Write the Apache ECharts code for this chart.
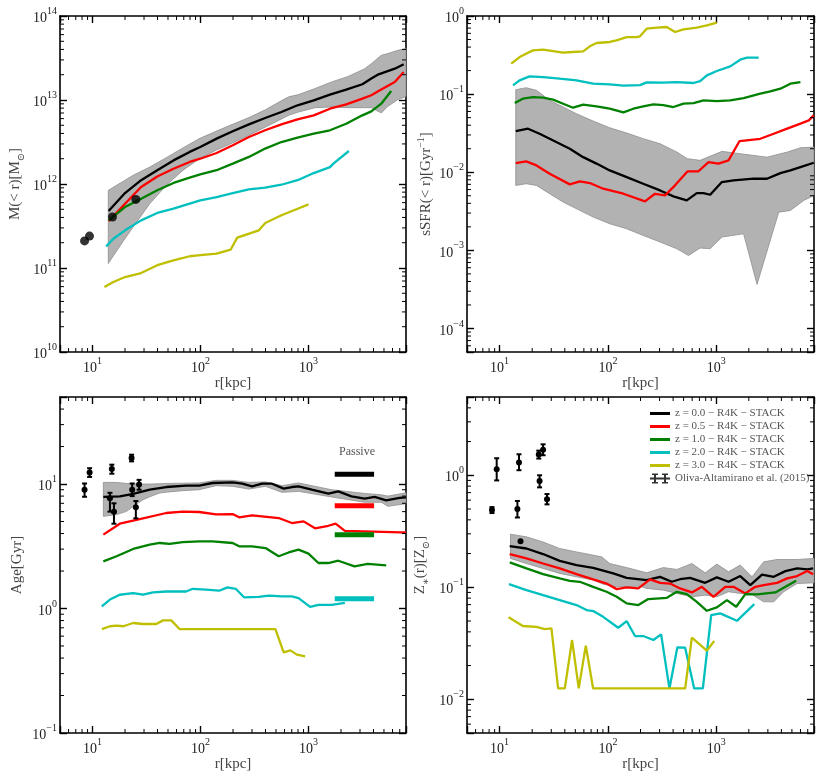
<!DOCTYPE html>
<html><head><meta charset="utf-8">
<script src="https://cdn.jsdelivr.net/npm/echarts@6/dist/echarts.min.js"></script>
<style>html,body{margin:0;padding:0;background:#fff}#c{width:822px;height:779px}</style>
</head><body><div id="c"></div>
<script>
// ---------- axis ranges ----------
const X_MIN = 5, X_MAX = 8000;
const Y_RANGES = [[1e10, 1e14], [5e-5, 1], [0.1, 50], [0.005, 5]];
const LEGEND_NAMES = ['z = 0.0 − R4K − STACK', 'z = 0.5 − R4K − STACK', 'z = 1.0 − R4K − STACK', 'z = 2.0 − R4K − STACK', 'z = 3.0 − R4K − STACK'];
const OBS_NAME = 'Oliva-Altamirano et al. (2015)';
const COLORS = ['#000000', '#ff0000', '#008000', '#00bfbf', '#bfbf00'];

// ---------- Panel 1: M(<r) ----------
const M_r0 = [14.1, 20, 28.2, 39.8, 56.2, 79.4, 99.5, 141, 199, 281, 397, 561, 792, 1119, 1581, 2234, 3155, 3820, 4457, 6295, 7620];
const M_v0 = [4.78e11, 7.8e11, 1.11e12, 1.46e12, 1.91e12, 2.41e12, 2.76e12, 3.47e12, 4.24e12, 5.13e12, 6.1e12, 7.2e12, 8.65e12, 9.9e12, 1.16e13, 1.33e13, 1.54e13, 1.80e13, 2.02e13, 2.36e13, 2.66e13];
const M_r1 = M_r0;
const M_v1 = [3.6e11, 5.83e11, 9.2e11, 1.23e12, 1.52e12, 1.83e12, 2.0e12, 2.34e12, 2.89e12, 3.63e12, 4.36e12, 5.13e12, 5.89e12, 6.57e12, 7.88e12, 8.88e12, 1.04e13, 1.14e13, 1.28e13, 1.64e13, 2.15e13];
const M_r2 = [14.1, 20, 28.2, 39.8, 56.2, 79.4, 99.5, 141, 199, 281, 397, 561, 792, 1119, 1581, 2234, 3155, 3820, 4720, 5835];
const M_v2 = [3.69e11, 5.32e11, 6.69e11, 8.41e11, 1.03e12, 1.19e12, 1.30e12, 1.46e12, 1.75e12, 2.10e12, 2.64e12, 3.16e12, 3.56e12, 3.98e12, 4.36e12, 5.22e12, 6.57e12, 7.33e12, 9.04e12, 1.28e13];
const M_r3 = [13.4, 15.6, 20, 28.2, 39.8, 56.2, 79.4, 99.5, 141, 199, 281, 397, 561, 792, 1119, 1581, 1700, 2366];
const M_v3 = [1.81e11, 2.23e11, 2.81e11, 3.69e11, 4.52e11, 5.08e11, 5.83e11, 6.39e11, 7.0e11, 7.8e11, 8.65e11, 9.05e11, 9.8e11, 1.11e12, 1.35e12, 1.59e12, 1.75e12, 2.47e12];
const M_r4 = [12.9, 15.6, 20, 28.2, 39.8, 56.2, 79.4, 99.5, 141, 190, 219, 282, 347, 398, 562, 794, 1000];
const M_v4 = [5.94e10, 6.81e10, 7.81e10, 8.71e10, 1.08e11, 1.23e11, 1.38e11, 1.42e11, 1.48e11, 1.65e11, 2.30e11, 2.56e11, 2.81e11, 3.43e11, 4.24e11, 5.08e11, 5.73e11];
const M_bandR = [14.0, 19.3, 23.8, 33.9, 48.2, 68.5, 97.5, 139, 198, 281, 400, 569, 655, 809, 1151, 1637, 2333, 3319, 3820, 4720, 5435, 6716, 8000];
const M_bandHi = [8.4e11, 1.08e12, 1.27e12, 1.59e12, 2.06e12, 2.68e12, 3.47e12, 4.24e12, 5.13e12, 6.17e12, 7.67e12, 9.9e12, 1.09e13, 1.16e13, 1.37e13, 1.64e13, 1.91e13, 2.36e13, 2.71e13, 3.40e13, 3.57e13, 3.90e13, 4.1e13];
const M_bandLo = [1.13e11, 2.10e11, 3.08e11, 5.83e11, 9.64e11, 1.45e12, 2.0e12, 2.52e12, 3.08e12, 3.80e12, 4.77e12, 6.0e12, 6.57e12, 7.2e12, 8.1e12, 8.26e12, 8.1e12, 8.1e12, 8.1e12, 7.0e12, 8.4e12, 1.01e13, 1.1e13];
const M_obsR = [8.44, 9.38, 15.3, 25.2];
const M_obsV = [2.1e11, 2.4e11, 4.05e11, 6.56e11];

// ---------- Panel 2: sSFR(<r) ----------
const S_r0 = [14.1, 18.3, 23.4, 29.0, 44.5, 59.1, 78.5, 104, 149, 212, 303, 403, 535, 662, 764, 880, 1128, 1446, 2216, 2944, 3915, 4843, 5995, 7962];
const S_v0 = [0.0337, 0.0361, 0.0311, 0.0269, 0.0200, 0.0156, 0.0129, 0.01055, 0.00867, 0.00713, 0.00585, 0.00491, 0.00436, 0.00541, 0.00541, 0.00515, 0.00748, 0.00786, 0.00826, 0.00826, 0.00976, 0.01055, 0.01164, 0.01324];
const S_r1 = [14.1, 17.6, 21.9, 29.0, 44.5, 55.1, 68.1, 90.5, 139, 220, 272, 337, 417, 542, 686, 849, 1050, 1300, 1644, 2553, 3396, 4518, 6000, 7160, 7962];
const S_v1 = [0.0131, 0.01376, 0.01223, 0.00957, 0.00699, 0.00764, 0.00727, 0.00615, 0.00531, 0.00423, 0.0053, 0.00505, 0.0068, 0.01025, 0.0103, 0.0135, 0.0129, 0.0142, 0.0251, 0.0268, 0.0311, 0.0361, 0.0419, 0.0461, 0.0535];
const S_r2 = [13.8, 16.4, 20.3, 25.2, 31.2, 38.6, 47.7, 59.1, 78.5, 104, 139, 172, 212, 263, 325, 403, 499, 617, 764, 1014, 1349, 1791, 2553, 3162, 3915, 4843, 5995];
const S_v2 = [0.0769, 0.0873, 0.0918, 0.090, 0.0849, 0.0754, 0.067, 0.0732, 0.0697, 0.065, 0.0584, 0.065, 0.0697, 0.0739, 0.0725, 0.0684, 0.0754, 0.0769, 0.0832, 0.0815, 0.0832, 0.0891, 0.1012, 0.1084, 0.1173, 0.136, 0.1428];
const S_r3 = [13.3, 15.3, 18.9, 25.2, 35.9, 51.3, 73.1, 104, 139, 198, 228, 325, 432, 617, 711, 820, 1014, 1349, 1667, 1923, 2466];
const S_v3 = [0.1294, 0.150, 0.169, 0.1655, 0.1575, 0.150, 0.136, 0.1333, 0.1282, 0.1306, 0.1413, 0.140, 0.1428, 0.1387, 0.147, 0.174, 0.1977, 0.2266, 0.276, 0.2924, 0.2924];
const S_r4 = [12.8, 15.3, 20.3, 25.2, 31.2, 38.6, 47.7, 59.1, 68.1, 78.5, 104, 120, 149, 184, 198, 228, 282, 349, 417, 499, 662, 820, 1014];
const S_v4 = [0.245, 0.298, 0.363, 0.371, 0.356, 0.339, 0.346, 0.353, 0.409, 0.451, 0.465, 0.488, 0.538, 0.538, 0.549, 0.689, 0.709, 0.723, 0.624, 0.675, 0.709, 0.759, 0.822];
const S_bandHiR = [14.1, 17.6, 21.9, 29.0, 38.6, 51.3, 73.1, 104, 149, 212, 303, 432, 542, 711, 1130, 2944, 4518, 6000, 8000];
const S_bandHi = [0.114, 0.1208, 0.1117, 0.0832, 0.0684, 0.0561, 0.0452, 0.0371, 0.0318, 0.0269, 0.0232, 0.0182, 0.0149, 0.0142, 0.0185, 0.0156, 0.0181, 0.0206, 0.021];
const S_bandLoR = [14.1, 17.6, 21.9, 29.0, 38.6, 51.3, 73.1, 104, 149, 212, 303, 432, 555, 711, 880, 1130, 1791, 2383, 3776, 4843, 6440, 8000];
const S_bandLo = [0.00678, 0.00713, 0.00678, 0.00531, 0.00415, 0.00341, 0.00267, 0.00219, 0.00189, 0.00155, 0.00128, 0.00105, 0.00086, 0.00107, 0.00105, 0.00148, 0.00163, 0.000366, 0.00308, 0.00324, 0.00436, 0.00505];

// ---------- Panel 3: Age ----------
const A_r0 = [12.6, 17.9, 23.8, 33.9, 48.2, 73.6, 97.5, 129, 198, 244, 301, 372, 460, 589, 702, 809, 1073, 1528, 1888, 2500, 3319, 4100, 5250, 6970, 8000];
const A_v0 = [7.87, 7.96, 8.32, 9.0, 9.46, 9.70, 9.70, 10.19, 10.31, 10.06, 9.58, 10.06, 10.06, 9.18, 9.46, 9.58, 9.0, 8.36, 8.73, 7.96, 7.63, 7.87, 7.39, 7.73, 7.8];
const A_r1 = [12.6, 17.9, 27.4, 48.2, 68.5, 97.5, 139, 198, 228, 301, 530, 702, 900, 1151, 1528, 1783, 2173, 7200, 8000];
const A_v1 = [3.92, 4.80, 5.23, 5.85, 5.99, 5.96, 5.70, 5.74, 5.40, 5.60, 5.33, 4.86, 5.01, 4.41, 4.62, 4.80, 4.21, 4.09, 4.09];
const A_r2 = [12.6, 16.7, 23.8, 33.9, 41.9, 51.8, 68.5, 97.5, 129, 198, 228, 301, 400, 530, 655, 809, 1000, 1236, 1528, 1888, 2670, 3540, 5250];
const A_v2 = [2.39, 2.63, 3.01, 3.26, 3.36, 3.30, 3.42, 3.46, 3.46, 3.36, 3.16, 3.16, 3.06, 2.63, 2.82, 2.97, 2.76, 2.32, 2.32, 2.42, 2.18, 2.28, 2.22];
const A_r3 = [12.2, 14.5, 17.9, 23.8, 29.4, 36.3, 48.2, 73.6, 84.7, 112, 149, 178, 212, 253, 347, 429, 569, 702, 809, 1036, 1236, 1637, 2173];
const A_v3 = [1.04, 1.18, 1.29, 1.33, 1.29, 1.35, 1.37, 1.37, 1.44, 1.42, 1.39, 1.48, 1.44, 1.23, 1.24, 1.27, 1.25, 1.25, 1.21, 1.03, 1.07, 1.07, 1.11];
const A_r4 = [12.2, 14.5, 16.7, 19.3, 23.8, 29.4, 39.0, 44.9, 53.6, 63.9, 494, 589, 679, 781, 931];
const A_v4 = [0.684, 0.720, 0.728, 0.720, 0.765, 0.751, 0.751, 0.803, 0.803, 0.684, 0.684, 0.445, 0.461, 0.426, 0.413];
const A_bandR = [12.6, 16.7, 20.7, 23.8, 29.4, 33.9, 41.9, 48.2, 68.5, 97.5, 139, 198, 281, 400, 569, 809, 1637, 3319, 4720, 5435, 8000];
const A_bandHi = [10.3, 10.3, 10.1, 10.0, 10.0, 10.0, 10.05, 10.1, 10.15, 10.2, 10.7, 10.7, 10.3, 10.4, 9.7, 10.2, 9.0, 8.4, 8.2, 8.0, 8.5];
const A_bandLo = [5.50, 5.68, 6.03, 6.62, 7.49, 7.9, 8.47, 8.6, 8.84, 9.0, 9.70, 9.58, 9.1, 9.58, 8.57, 8.73, 7.87, 7.13, 7.13, 6.62, 6.95];
const A_obsR = [8.44, 9.4, 15.1, 14.5, 15.8, 23.0, 23.3, 25.2, 27.0];
const A_obsV = [9.0, 12.4, 13.2, 7.7, 6.0, 16.2, 9.0, 6.5, 9.9];
const A_obsLo = [7.9, 11.4, 12.1, 6.0, 4.8, 15.2, 8.0, 5.3, 9.0];
const A_obsHi = [10.1, 13.4, 14.3, 8.5, 7.0, 17.2, 10.1, 7.3, 10.8];
const PASSIVE_R = [1750, 4050];
const PASSIVE_AGE = [12.0, 6.7, 3.92, 1.2];

// ---------- Panel 4: Z*(r) ----------
const Z_r0 = [12.4, 17.7, 25.2, 35.9, 51.3, 73.1, 112, 149, 228, 303, 389, 464, 574, 791, 1014, 1300, 1667, 2064, 2650, 3396, 4355, 5585, 6918, 7860];
const Z_v0 = [0.233, 0.222, 0.198, 0.172, 0.158, 0.149, 0.133, 0.1215, 0.1159, 0.124, 0.112, 0.118, 0.1215, 0.1096, 0.1225, 0.112, 0.126, 0.1045, 0.130, 0.124, 0.1394, 0.1473, 0.1443, 0.1473];
const Z_r1 = [12.4, 17.7, 25.2, 35.9, 51.3, 73.1, 97.2, 120.5, 149, 191, 245, 303, 375, 464, 596, 737, 944, 1211, 1446, 1857, 2297, 2743, 3648, 4518, 5585, 6918, 7860];
const Z_v1 = [0.198, 0.181, 0.163, 0.1473, 0.131, 0.1175, 0.108, 0.0963, 0.0997, 0.0977, 0.1175, 0.1096, 0.108, 0.0977, 0.090, 0.101, 0.0822, 0.101, 0.101, 0.0882, 0.101, 0.1045, 0.1096, 0.120, 0.126, 0.140, 0.131];
const Z_r2 = [12.4, 17.7, 25.2, 35.9, 44.5, 55.0, 73.1, 97.2, 120.5, 149, 191, 236, 350, 433, 535, 662, 820, 1014, 1256, 1531, 1857, 2384, 3515, 4355, 5470];
const Z_v2 = [0.1666, 0.1473, 0.131, 0.120, 0.1142, 0.112, 0.101, 0.0912, 0.0822, 0.0718, 0.0694, 0.0785, 0.0805, 0.0912, 0.0869, 0.0742, 0.0617, 0.0661, 0.0769, 0.067, 0.0869, 0.0864, 0.090, 0.101, 0.1142];
const Z_r3 = [12.2, 17.7, 25.2, 35.9, 51.3, 63.5, 73.1, 90.4, 124.5, 149, 178, 212, 263, 310, 370, 438, 517, 626, 753, 899, 1090, 1555, 2248];
const Z_v3 = [0.1067, 0.0943, 0.0851, 0.0769, 0.0694, 0.0626, 0.0613, 0.0545, 0.0435, 0.0499, 0.0367, 0.0367, 0.0338, 0.038, 0.0125, 0.0291, 0.0289, 0.0125, 0.0125, 0.0565, 0.0585, 0.0502, 0.0708];
const Z_r4 = [12.1, 16.4, 21.9, 26.1, 30.1, 34.7, 40.0, 46.7, 53.8, 62.5, 73.1, 517, 596, 820, 958];
const Z_v4 = [0.0539, 0.0451, 0.0444, 0.0424, 0.043, 0.0125, 0.0125, 0.0338, 0.0125, 0.0301, 0.0125, 0.0125, 0.0355, 0.0272, 0.0331];
const Z_bandHiR = [12.6, 17.7, 25.2, 35.9, 51.3, 87.5, 104, 149, 228, 325, 433, 596, 791, 1014, 1300, 1667, 2143, 2743, 3648, 5585, 8000];
const Z_bandHi = [0.298, 0.282, 0.254, 0.222, 0.207, 0.187, 0.163, 0.150, 0.1346, 0.150, 0.1443, 0.163, 0.1346, 0.161, 0.1374, 0.158, 0.124, 0.1687, 0.177, 0.177, 0.181];
const Z_bandLoR = [12.6, 17.7, 25.2, 35.9, 51.3, 73.1, 90.4, 120.5, 198, 228, 325, 433, 596, 791, 1014, 1300, 1667, 2064, 2743, 3396, 4198, 5585, 8000];
const Z_bandLo = [0.181, 0.163, 0.1473, 0.133, 0.124, 0.1159, 0.1067, 0.101, 0.1024, 0.0977, 0.0943, 0.0882, 0.0822, 0.0851, 0.0822, 0.0912, 0.0882, 0.0882, 0.0742, 0.0742, 0.0912, 0.108, 0.1096];
const Z_obsR = [8.5, 9.4, 14.6, 15.1, 23.0, 25.2, 23.4, 27.4, 15.6];
const Z_obsV = [0.49, 1.13, 0.50, 1.30, 1.53, 1.69, 0.89, 0.61, 0.258];
const Z_obsLo = [0.46, 0.90, 0.42, 1.11, 1.41, 1.51, 0.78, 0.55, 0.258];
const Z_obsHi = [0.52, 1.42, 0.59, 1.54, 1.66, 1.89, 1.00, 0.68, 0.258];

// ---------- styling helpers ----------
const SERIF = '"Liberation Serif", "DejaVu Serif", serif';
const GRIDS = [
  {left: 60, top: 16, width: 346, height: 336},
  {left: 467, top: 16, width: 347, height: 336},
  {left: 60, top: 397, width: 346, height: 336},
  {left: 467, top: 397, width: 347, height: 336}
];
const richLab = {
  b: {fontFamily: SERIF, fontSize: 14, color: '#222', verticalAlign: 'bottom', lineHeight: 19},
  s: {fontFamily: SERIF, fontSize: 10, color: '#222', verticalAlign: 'top', lineHeight: 19}
};
function expFmt(v) {
  const e = Math.log10(v);
  const r = Math.round(e);
  if (Math.abs(e - r) > 1e-6) return '';
  return '{b|10}{s|' + (r < 0 ? '\u2212' + (-r) : r) + '}';
}
const NLH = 18;
const nameRich = {
  n: {fontFamily: SERIF, fontSize: 15, color: '#444', verticalAlign: 'middle', lineHeight: NLH},
  nt: {fontFamily: SERIF, fontSize: 15, color: '#444', verticalAlign: 'bottom', lineHeight: NLH},
  nb: {fontFamily: SERIF, fontSize: 15, color: '#444', verticalAlign: 'top', lineHeight: NLH},
  sub: {fontFamily: SERIF, fontSize: 10, color: '#444', verticalAlign: 'bottom', lineHeight: NLH},
  sup: {fontFamily: SERIF, fontSize: 10, color: '#444', verticalAlign: 'top', lineHeight: NLH}
};
const Y_NAMES = [
  '{nb|M(< r)[M}{sub|\u2299}{nb|]}',
  '{nt|sSFR(< r)[Gyr}{sup|\u22121}{nt|]}',
  '{n|Age[Gyr]}',
  '{nb|Z}{sub|\u2217}{nb|(r)[Z}{sub|\u2299}{nb|]}'
];
const Y_GAPS = [34, 33, 34, 36];

const xAxes = [], yAxes = [];
GRIDS.forEach((g, gi) => {
  [false, true].forEach(mirror => {
    xAxes.push({
      type: 'log', logBase: 10, gridIndex: gi, min: X_MIN, max: X_MAX,
      position: mirror ? 'top' : 'bottom',
      axisLine: {show: true, onZero: false, lineStyle: {color: '#000', width: 1.6}},
      axisTick: {show: true, inside: true, length: 7, lineStyle: {color: '#000', width: 1.4}},
      axisLabel: mirror ? {show: false} : {show: true, margin: 4, formatter: expFmt, rich: richLab, hideOverlap: false},
      splitLine: {show: false},
      name: mirror ? '' : 'r[kpc]', nameLocation: 'middle', nameGap: 20,
      nameTextStyle: {fontFamily: SERIF, fontSize: 15, color: '#444'}
    });
    yAxes.push({
      type: 'log', logBase: 10, gridIndex: gi, min: Y_RANGES[gi][0], max: Y_RANGES[gi][1],
      position: mirror ? 'right' : 'left',
      axisLine: {show: true, onZero: false, lineStyle: {color: '#000', width: 1.6}},
      axisTick: {show: true, inside: true, length: 7, lineStyle: {color: '#000', width: 1.4}},
      axisLabel: mirror ? {show: false} : {show: true, margin: 3, formatter: expFmt, rich: richLab, hideOverlap: false},
      splitLine: {show: false},
      name: mirror ? '' : Y_NAMES[gi], nameLocation: 'middle', nameGap: Y_GAPS[gi], nameRotate: 90,
      nameTextStyle: {fontFamily: SERIF, fontSize: 15, color: '#444', rich: nameRich}
    });
  });
});

const series = [];
function ax(gi) { return {xAxisIndex: 2 * gi, yAxisIndex: 2 * gi}; }
function lineS(gi, name, xs, ys, color, width, z) {
  return Object.assign({
    type: 'line', name: name, data: xs.map((x, i) => [x, ys[i]]),
    showSymbol: false, symbol: 'none', animation: false, silent: true,
    lineStyle: {color: color, width: width || 2.3}, itemStyle: {color: color}, z: z || 3
  }, ax(gi));
}
function bandS(gi, hx, hy, lx, ly) {
  return Object.assign({
    type: 'custom', name: 'band' + gi, silent: true, animation: false, z: 1,
    data: [[hx[0], hy[0]]],
    renderItem: function (params, api) {
      const pts = [];
      hx.forEach((x, i) => pts.push(api.coord([x, hy[i]])));
      for (let i = lx.length - 1; i >= 0; i--) pts.push(api.coord([lx[i], ly[i]]));
      return {type: 'polygon', shape: {points: pts}, style: {fill: '#b2b2b2', stroke: '#8f8f8f', lineWidth: 0.8}};
    }
  }, ax(gi));
}
function errS(gi, xs, ys, lo, hi) {
  return Object.assign({
    type: 'custom', name: OBS_NAME, silent: true, animation: false, z: 6,
    itemStyle: {color: '#000'},
    data: xs.map((x, i) => [x, ys[i], lo[i], hi[i]]),
    encode: {x: 0, y: 1},
    renderItem: function (params, api) {
      const c = api.coord([api.value(0), api.value(1)]);
      const a = api.coord([api.value(0), api.value(2)]);
      const b = api.coord([api.value(0), api.value(3)]);
      const ch = [];
      if (Math.abs(a[1] - b[1]) > 0.5) {
        const st = {stroke: '#000', lineWidth: 2};
        ch.push({type: 'line', shape: {x1: c[0], y1: a[1], x2: c[0], y2: b[1]}, style: st});
        ch.push({type: 'line', shape: {x1: c[0] - 2.5, y1: a[1], x2: c[0] + 2.5, y2: a[1]}, style: st});
        ch.push({type: 'line', shape: {x1: c[0] - 2.5, y1: b[1], x2: c[0] + 2.5, y2: b[1]}, style: st});
      }
      ch.push({type: 'circle', shape: {cx: c[0], cy: c[1], r: 3}, style: {fill: '#000'}});
      return {type: 'group', children: ch};
    }
  }, ax(gi));
}
function minorS(gi) {
  const [y0, y1] = Y_RANGES[gi];
  const data = [];
  for (let e = -6; e <= 15; e++) {
    for (let k = 2; k <= 9; k++) {
      const v = k * Math.pow(10, e);
      if (v > X_MIN * 1.0001 && v < X_MAX * 0.9999) data.push([v, y0, 0]);
      if (v > y0 * 1.0001 && v < y1 * 0.9999) data.push([X_MIN, v, 1]);
    }
  }
  return Object.assign({
    type: 'custom', name: 'minor' + gi, silent: true, animation: false, z: 7,
    data: data, encode: {x: 0, y: 1},
    renderItem: function (params, api) {
      const cs = params.coordSys;
      const p = api.coord([api.value(0), api.value(1)]);
      const L = 4, st = {stroke: '#000', lineWidth: 1};
      if (api.value(2) === 0) {
        return {type: 'group', children: [
          {type: 'line', shape: {x1: p[0], y1: cs.y + cs.height, x2: p[0], y2: cs.y + cs.height - L}, style: st},
          {type: 'line', shape: {x1: p[0], y1: cs.y, x2: p[0], y2: cs.y + L}, style: st}
        ]};
      }
      return {type: 'group', children: [
        {type: 'line', shape: {x1: cs.x, y1: p[1], x2: cs.x + L, y2: p[1]}, style: st},
        {type: 'line', shape: {x1: cs.x + cs.width, y1: p[1], x2: cs.x + cs.width - L, y2: p[1]}, style: st}
      ]};
    }
  }, ax(gi));
}

// panel 1
series.push(bandS(0, M_bandR, M_bandHi, M_bandR, M_bandLo));
[[M_r0, M_v0], [M_r1, M_v1], [M_r2, M_v2], [M_r3, M_v3], [M_r4, M_v4]].forEach((d, i) => series.push(lineS(0, LEGEND_NAMES[i], d[0], d[1], COLORS[i])));
series.push(Object.assign({type: 'scatter', name: OBS_NAME, data: M_obsR.map((x, i) => [x, M_obsV[i]]), symbol: 'circle', symbolSize: 9, itemStyle: {color: '#000'}, silent: true, animation: false, z: 6}, ax(0)));
// panel 2
series.push(bandS(1, S_bandHiR, S_bandHi, S_bandLoR, S_bandLo));
[[S_r0, S_v0], [S_r1, S_v1], [S_r2, S_v2], [S_r3, S_v3], [S_r4, S_v4]].forEach((d, i) => series.push(lineS(1, LEGEND_NAMES[i], d[0], d[1], COLORS[i])));
// panel 3
series.push(bandS(2, A_bandR, A_bandHi, A_bandR, A_bandLo));
[[A_r0, A_v0], [A_r1, A_v1], [A_r2, A_v2], [A_r3, A_v3], [A_r4, A_v4]].forEach((d, i) => series.push(lineS(2, LEGEND_NAMES[i], d[0], d[1], COLORS[i])));
PASSIVE_AGE.forEach((a, i) => series.push(lineS(2, 'passive' + i, PASSIVE_R, [a, a], COLORS[i], 5, 4)));
series.push(errS(2, A_obsR, A_obsV, A_obsLo, A_obsHi));
// panel 4
series.push(bandS(3, Z_bandHiR, Z_bandHi, Z_bandLoR, Z_bandLo));
[[Z_r0, Z_v0], [Z_r1, Z_v1], [Z_r2, Z_v2], [Z_r3, Z_v3], [Z_r4, Z_v4]].forEach((d, i) => series.push(lineS(3, LEGEND_NAMES[i], d[0], d[1], COLORS[i])));
series.push(errS(3, Z_obsR, Z_obsV, Z_obsLo, Z_obsHi));
[0, 1, 2, 3].forEach(gi => series.push(minorS(gi)));

const lineIcon = 'path://M0,0h20v3h-20z';
const errIcon = 'path://M0,4h20v2h-20z M4,0h2v10h-2z M14,0h2v10h-2z M2,0h6v1.6h-6z M2,8.4h6v1.6h-6z M12,0h6v1.6h-6z M12,8.4h6v1.6h-6z';

const chart = echarts.init(document.getElementById('c'), null, {renderer: 'canvas'});
chart.setOption({
  animation: false,
  backgroundColor: '#fff',
  grid: GRIDS.map(g => Object.assign({containLabel: false}, g)),
  xAxis: xAxes,
  yAxis: yAxes,
  legend: {
    show: true, orient: 'vertical', left: 645, top: 403,
    itemWidth: 20, itemHeight: 10, itemGap: 2, selectedMode: false,
    textStyle: {fontFamily: SERIF, fontSize: 11, color: '#555'},
    data: LEGEND_NAMES.map(n => ({name: n, icon: lineIcon})).concat([{name: OBS_NAME, icon: errIcon}])
  },
  graphic: [{
    type: 'text', x: 357, y: 452,
    style: {text: 'Passive', fontFamily: SERIF, fontSize: 12, fill: '#555', align: 'center', verticalAlign: 'middle'}
  }],
  series: series
});
</script></body></html>
